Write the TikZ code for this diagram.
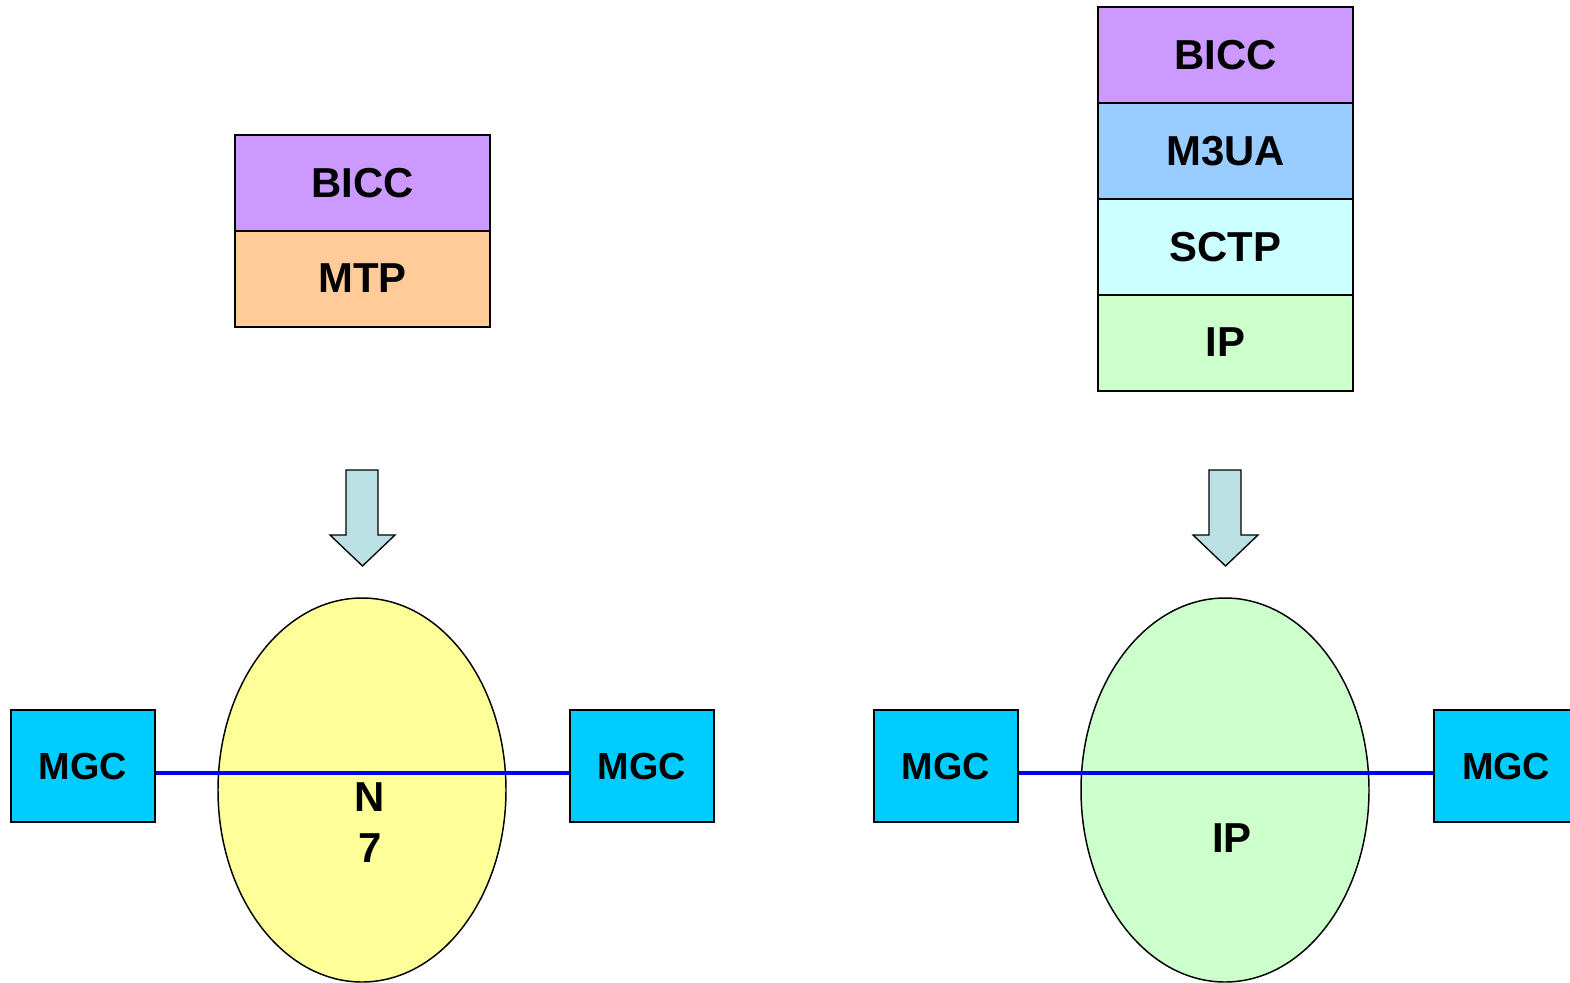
\documentclass[tikz,border=0pt]{standalone}
\usepackage{fontspec}
\setmainfont{Liberation Sans}
\usetikzlibrary{shapes.geometric}
\definecolor{lavender}{HTML}{CC99FF}
\definecolor{peach}{HTML}{FFCC99}
\definecolor{skyblue}{HTML}{99CCFF}
\definecolor{paleaqua}{HTML}{CCFFFF}
\definecolor{palegreen}{HTML}{CCFFCC}
\definecolor{paleyellow}{HTML}{FFFF99}
\definecolor{mgccyan}{HTML}{00CCFF}
\definecolor{arrowfill}{HTML}{BBE0E3}
\definecolor{linkblue}{HTML}{0000EE}
\tikzset{
  layer/.style={draw=black, line width=1.5pt, minimum width=191.25pt, minimum height=72pt,
    inner sep=0pt, font=\fontsize{31.4}{36}\selectfont\bfseries},
  mgc/.style={draw=black, line width=1.5pt, fill=mgccyan, minimum width=108pt, minimum height=84pt,
    inner sep=0pt, font=\fontsize{28.3}{33}\selectfont\bfseries},
  net/.style={ellipse, draw=black, line width=1.1pt, minimum width=216pt, minimum height=288pt, inner sep=0pt},
  netlabel/.style={inner sep=0pt, font=\fontsize{31.4}{36}\selectfont\bfseries},
  link/.style={draw=linkblue, line width=2.4pt},
  downarrow/.style={draw=black, line width=1pt, fill=arrowfill},
}
\begin{document}
\begin{tikzpicture}[x=0.75pt, y=-0.75pt]
\useasboundingbox (0,0) rectangle (1570,982);
\clip (0,0) rectangle (1570,982);

% SS7-based protocol stack
\node[layer, fill=lavender] (lbicc) at (362.5,183) {BICC};
\node[layer, fill=peach]    (lmtp)  at (362.5,278.5) {MTP};

% IP-based protocol stack
\node[layer, fill=lavender]  (rbicc) at (1225.5,55)  {BICC};
\node[layer, fill=skyblue]   (rm3ua) at (1225.5,151) {M3UA};
\node[layer, fill=paleaqua]  (rsctp) at (1225.5,247) {SCTP};
\node[layer, fill=palegreen] (rip)   at (1225.5,342.5) {IP};

% block arrows pointing down to the networks
\draw[downarrow] (346,470) -- (378,470) -- (378,535) -- (395,535) -- (362.5,566)
  -- (330,535) -- (346,535) -- cycle;
\draw[downarrow] (1209,470) -- (1241,470) -- (1241,535) -- (1258,535) -- (1225.5,566)
  -- (1193,535) -- (1209,535) -- cycle;

% networks
\node[net, fill=paleyellow] (n7) at (362,790) {};
\node[net, fill=palegreen]  (ipnet) at (1225,790) {};

% media gateway controllers
\node[mgc] (mgc1) at (83,766) {MGC};
\node[mgc] (mgc2) at (642,766) {MGC};
\node[mgc] (mgc3) at (946,766) {MGC};
\node[mgc] (mgc4) at (1506,766) {MGC};

% signalling links
\draw[link] ([yshift=-5.25pt]mgc1.east) -- ([yshift=-5.25pt]mgc2.west);
\draw[link] ([yshift=-5.25pt]mgc3.east) -- ([yshift=-5.25pt]mgc4.west);

% network labels
\node[netlabel] (n7a) at (370,797) {N};
\node[netlabel] (n7b) at (370,848) {7};
\node[netlabel] (iplab) at (1232,838) {IP};
\end{tikzpicture}
\end{document}
